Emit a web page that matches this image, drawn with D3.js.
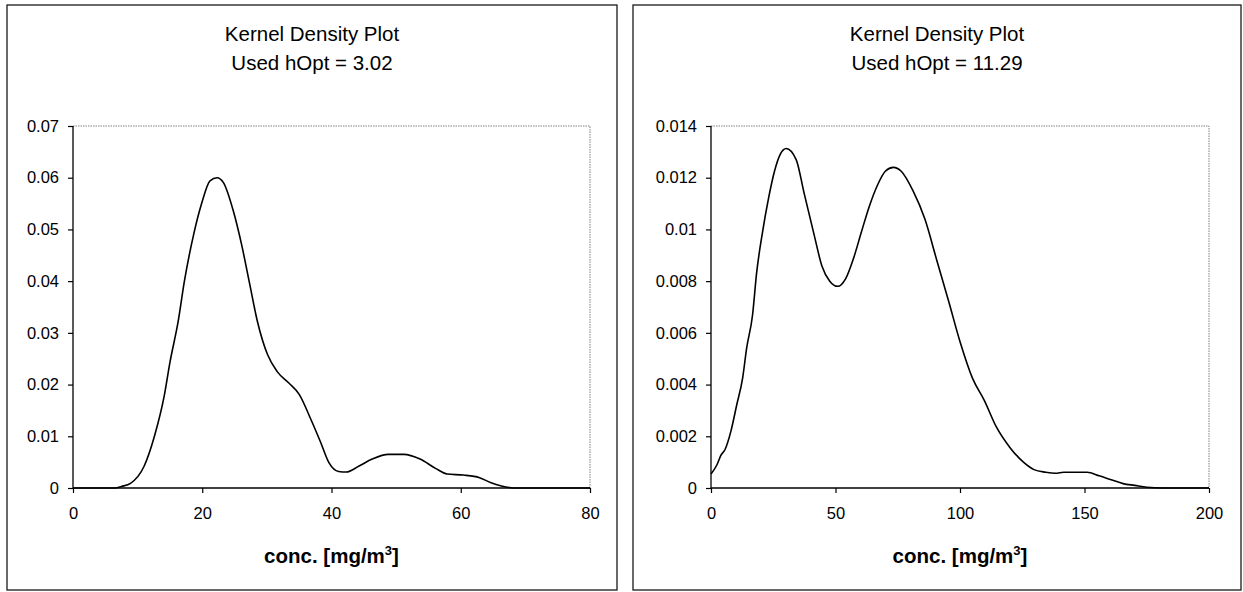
<!DOCTYPE html>
<html>
<head>
<meta charset="utf-8">
<script src="https://cdn.jsdelivr.net/npm/d3@7"></script>
<style>
  body { margin: 0; background: #fff; }
  svg { display: block; }
  text { font-family: "Liberation Sans", Arial, Helvetica, sans-serif; fill: #000; }
</style>
</head>
<body>
<svg id="chart" width="1243" height="592"></svg>
<script>
// ---- data ----
const chartTitle = "Kernel Density Plot";
const axisTitle = "conc. [mg/m";
const axisTitleSup = "3";
const axisTitleEnd = "]";

// Left panel: bandwidth 3.02
const leftSubtitle = "Used hOpt = 3.02";
const leftConc = [0, 6.5, 7.5, 8.9, 11.0, 12.6, 14.1, 15.0, 16.3, 17.2, 18.7, 19.9, 21.2, 22.3, 23.3, 24.8, 26.1, 27.3, 28.5, 30.1, 31.6, 33.4, 35.0, 36.8, 38.3, 39.6, 41.1, 42.3, 44.2, 46.3, 48.8, 51.2, 53.7, 56.1, 57.9, 60.4, 62.9, 64.7, 66.3, 67.5, 68.5, 80];
const leftDensity = [0, 0, 0.0003, 0.0009, 0.0042, 0.010, 0.0177, 0.0243, 0.0324, 0.0397, 0.0492, 0.055, 0.0594, 0.060, 0.059, 0.0536, 0.047, 0.0397, 0.0324, 0.0258, 0.0225, 0.0203, 0.0181, 0.0133, 0.0089, 0.0049, 0.0032, 0.0031, 0.0042, 0.0056, 0.0065, 0.0065, 0.0056, 0.0038, 0.0027, 0.0025, 0.002, 0.001, 0.0004, 0.0001, 0, 0];
const leftXTicks = [0, 20, 40, 60, 80];
const leftYTicks = [0, 0.01, 0.02, 0.03, 0.04, 0.05, 0.06, 0.07];
const leftYTickLabels = ["0", "0.01", "0.02", "0.03", "0.04", "0.05", "0.06", "0.07"];

// Right panel: bandwidth 11.29
const rightSubtitle = "Used hOpt = 11.29";
const rightConc = [0, 2.4, 4.0, 5.6, 8.0, 10.3, 12.7, 14.3, 16.7, 18.3, 20.7, 23.1, 25.5, 27.8, 30.2, 34.2, 37.4, 41.4, 44.5, 47.7, 50.9, 54.1, 57.3, 60.4, 63.6, 66.8, 70.0, 73.2, 76.4, 81.1, 85.9, 90.7, 95.5, 100.2, 105.0, 109.8, 114.6, 120.1, 125.7, 129.7, 134.4, 138.4, 141.6, 151.1, 155.9, 160.7, 165.5, 170.2, 175, 181.4, 200];
const rightDensity = [0.00054, 0.0009, 0.00127, 0.00148, 0.0022, 0.0032, 0.00425, 0.0054, 0.0067, 0.0083, 0.0099, 0.0112, 0.01225, 0.0129, 0.01313, 0.0127, 0.0114, 0.0098, 0.0086, 0.0080, 0.0078, 0.0081, 0.0089, 0.0099, 0.0109, 0.0117, 0.01225, 0.0124, 0.01225, 0.0115, 0.0104, 0.0088, 0.0072, 0.0056, 0.00425, 0.00338, 0.00236, 0.00156, 0.00098, 0.00071, 0.00061, 0.00057, 0.00061, 0.00061, 0.00047, 0.00032, 0.00017, 0.0001, 0.00003, 0, 0];
const rightXTicks = [0, 50, 100, 150, 200];
const rightYTicks = [0, 0.002, 0.004, 0.006, 0.008, 0.01, 0.012, 0.014];
const rightYTickLabels = ["0", "0.002", "0.004", "0.006", "0.008", "0.01", "0.012", "0.014"];

// ---- drawing ----
const svg = d3.select("#chart");

function drawPanel(cfg) {
  const g = svg.append("g");
  const [fx0, fy0, fx1, fy1] = cfg.frame;
  const [pl, pt, pr, pb] = cfg.plot;

  // outer chart frame
  g.append("rect")
    .attr("x", fx0).attr("y", fy0)
    .attr("width", fx1 - fx0).attr("height", fy1 - fy0)
    .attr("fill", "none").attr("stroke", "#1a1a1a").attr("stroke-width", 1.3);

  const x = d3.scaleLinear().domain(cfg.xDomain).range([pl, pr]);
  const y = d3.scaleLinear().domain(cfg.yDomain).range([pb, pt]);

  // plot area: dotted top/right edges
  g.append("path")
    .attr("d", `M${pl},${pt}H${pr}V${pb}`)
    .attr("fill", "none").attr("stroke", "#808080")
    .attr("stroke-width", 1).attr("stroke-dasharray", "1.5,1");

  // titles
  const cx = (fx0 + fx1) / 2;
  g.append("text").attr("x", cx).attr("y", 41).attr("text-anchor", "middle")
    .attr("font-size", 20.5).text(chartTitle);
  g.append("text").attr("x", cx).attr("y", 70).attr("text-anchor", "middle")
    .attr("font-size", 20.5).text(cfg.subtitle);

  // axes
  const yAxis = d3.axisLeft(y).tickValues(cfg.yTicks)
    .tickFormat((d, i) => cfg.yTickLabels[i]).tickSize(5).tickPadding(9);
  const ya = g.append("g").attr("transform", `translate(${pl},0)`).call(yAxis);
  ya.select(".domain").attr("d", `M${pl - pl},${pt}V${pb}`).attr("stroke", "#000").attr("stroke-width", 1.3);

  const xAxis = d3.axisBottom(x).tickValues(cfg.xTicks)
    .tickFormat(d3.format("d")).tickSize(5).tickPadding(14);
  const xa = g.append("g").attr("transform", `translate(0,${pb})`).call(xAxis);
  xa.select(".domain").attr("d", `M${pl},0H${pr}`).attr("stroke", "#000").attr("stroke-width", 1.3);

  [ya, xa].forEach(a => {
    a.selectAll(".tick line").attr("stroke", "#000").attr("stroke-width", 1.2);
    a.selectAll(".tick text").attr("font-size", 16.5)
      .attr("font-family", "'Liberation Sans', Arial, sans-serif").attr("fill", "#000");
  });

  // x axis title with superscript
  const t = g.append("text").attr("x", (pl + pr) / 2).attr("y", 563)
    .attr("text-anchor", "middle").attr("font-size", 20.5).attr("font-weight", "bold");
  t.append("tspan").text(axisTitle);
  t.append("tspan").attr("font-size", 13).attr("dy", -8).text(axisTitleSup);
  t.append("tspan").attr("dy", 8).text(axisTitleEnd);

  // density curve
  const pts = cfg.xs.map((v, i) => [v, cfg.ys[i]]);
  const line = d3.line().x(d => x(d[0])).y(d => y(d[1])).curve(d3.curveMonotoneX);
  g.append("path").datum(pts)
    .attr("d", line)
    .attr("fill", "none").attr("stroke", "#000").attr("stroke-width", 1.6)
    .attr("stroke-linejoin", "round");
}

drawPanel({
  frame: [7, 5, 617, 590],
  plot: [73, 126, 590, 488],
  xDomain: [0, 80], yDomain: [0, 0.07],
  xTicks: leftXTicks, yTicks: leftYTicks, yTickLabels: leftYTickLabels,
  xs: leftConc, ys: leftDensity, subtitle: leftSubtitle
});

drawPanel({
  frame: [633, 5, 1241, 590],
  plot: [711, 126, 1209, 488],
  xDomain: [0, 200], yDomain: [0, 0.014],
  xTicks: rightXTicks, yTicks: rightYTicks, yTickLabels: rightYTickLabels,
  xs: rightConc, ys: rightDensity, subtitle: rightSubtitle
});
</script>
</body>
</html>
